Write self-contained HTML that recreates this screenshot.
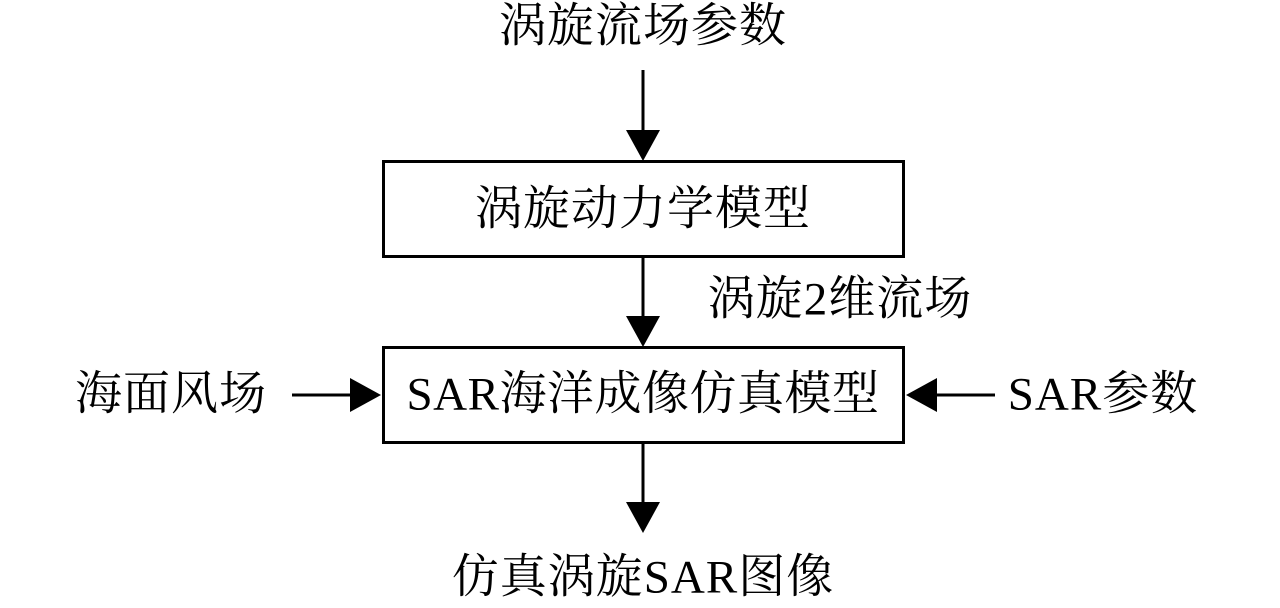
<!DOCTYPE html>
<html><head><meta charset="utf-8"><style>
body{margin:0;width:1280px;height:608px;background:#fff;overflow:hidden;position:relative;font-family:"Liberation Serif","Noto Serif CJK SC",serif;color:#000}
.t{position:absolute;font-size:47px;letter-spacing:1px;line-height:1;white-space:nowrap;transform:translate(-50%,-50%)}
.box{position:absolute;border:3px solid #000;box-sizing:border-box}
</style></head><body>
<div class="box" style="left:382px;top:160px;width:523px;height:98px"></div>
<div class="box" style="left:382px;top:346px;width:523px;height:98px"></div>
<svg width="1280" height="608" style="position:absolute;left:0;top:0">
<g stroke="#000" stroke-width="3">
<line x1="643" y1="70" x2="643" y2="132"/>
<line x1="643" y1="258" x2="643" y2="318"/>
<line x1="643" y1="444" x2="643" y2="504"/>
<line x1="292" y1="395" x2="352" y2="395"/>
<line x1="995" y1="395" x2="935" y2="395"/>
</g>
<g fill="#000">
<polygon points="626,130 660,130 643,161"/>
<polygon points="626,316 660,316 643,347"/>
<polygon points="626,502 660,502 643,533"/>
<polygon points="350,378 350,412 381,395"/>
<polygon points="937,378 937,412 906,395"/>
</g>
</svg>
<div class="t" style="left:643px;top:27px">涡旋流场参数</div>
<div class="t" style="left:643px;top:210px">涡旋动力学模型</div>
<div class="t" style="left:840px;top:300px">涡旋2维流场</div>
<div class="t" style="left:643px;top:395px;letter-spacing:0.5px">SAR海洋成像仿真模型</div>
<div class="t" style="left:171px;top:395px">海面风场</div>
<div class="t" style="left:1103px;top:395px">SAR参数</div>
<div class="t" style="left:643px;top:578px">仿真涡旋SAR图像</div>
</body></html>
